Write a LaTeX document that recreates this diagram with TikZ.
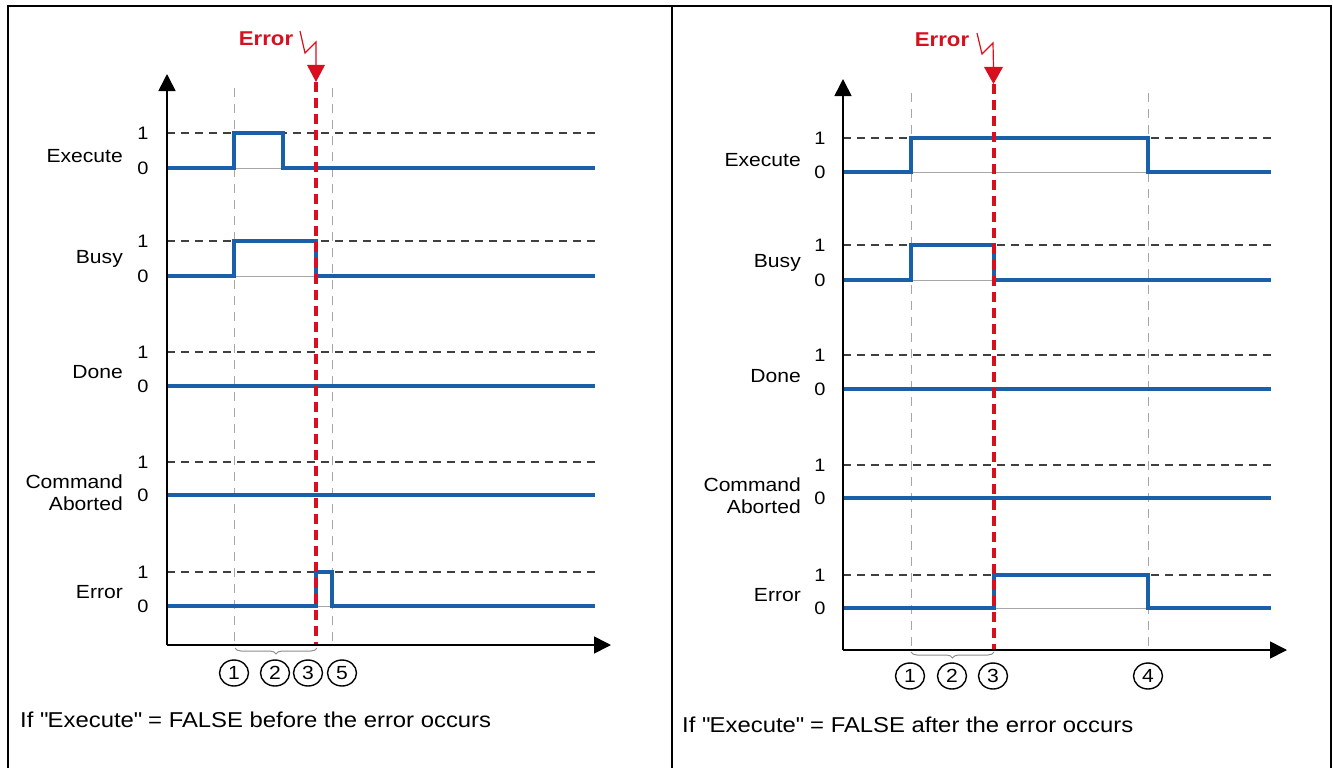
\documentclass[tikz,border=0pt]{standalone}
\usepackage{fontspec}
\setmainfont[FakeStretch=1.11]{Liberation Sans}
\usetikzlibrary{arrows.meta,decorations.pathreplacing,shapes.geometric}
\definecolor{sigblue}{RGB}{25,95,170}
\definecolor{errred}{RGB}{215,15,30}
\tikzset{
  sig/.style={sigblue, line width=3.2pt, line join=miter},
  lvl/.style={black!75, dash pattern=on 8pt off 6pt, line width=1.3pt},
  evt/.style={black!35, dash pattern=on 9pt off 7pt, line width=1pt},
  baseln/.style={black!35, line width=1pt},
  errln/.style={errred, line width=4pt, dash pattern=on 10pt off 6pt},
  axisln/.style={black, line width=1.6pt, -{Triangle[length=17pt,width=17pt]}},
  frame/.style={black, line width=2.4pt},
  numlab/.style={font=\fontsize{18}{18}\selectfont, inner sep=0pt, anchor=center},
  namelab/.style={font=\fontsize{19}{22}\selectfont, inner sep=0pt, anchor=east, align=right},
  circnum/.style={ellipse, draw, line width=1.4pt, minimum width=29pt, minimum height=26pt, inner sep=0pt, font=\fontsize{19}{19}\selectfont},
  captxt/.style={font=\fontsize{21.5}{22}\selectfont, inner sep=0pt, anchor=west},
  errlab/.style={font=\bfseries\fontsize{20}{20}\selectfont, text=errred, inner sep=0pt},
  bolt/.style={errred, line width=1.2pt},
  brc/.style={black!45, line width=1pt, decorate, decoration={brace, mirror, amplitude=6pt}}
}
\begin{document}
\begin{tikzpicture}[x=1pt,y=-1pt]
\useasboundingbox (0,0) rectangle (1333,768);
% frame
\draw[frame] (8,770) -- (8,6) -- (1331,6) -- (1331,770);
\draw[frame] (672,6) -- (672,770);

% ================= LEFT PANEL =================
\coordinate (LO) at (167,645);
\coordinate (LY) at (167,74);
\coordinate (LX) at (611,645);
\foreach \yy in {133,241,352,462,572} \draw[lvl] (167,\yy) -- (597,\yy);
\coordinate (Le1t) at (234,88); \coordinate (Le1b) at (234,645);
\coordinate (Le5t) at (332,88); \coordinate (Le5b) at (332,645);
\draw[evt] (Le1t) -- (Le1b);
\draw[evt] (Le5t) -- (Le5b);
\draw[baseln] (234,168) -- (283,168);
\draw[baseln] (234,276) -- (316,276);
\draw[baseln] (316,606) -- (332,606);
\draw[sig] (167,168) -- (234,168) -- (234,133) -- (283,133) -- (283,168) -- (595,168);
\draw[sig] (167,276) -- (234,276) -- (234,241) -- (316,241) -- (316,276) -- (595,276);
\draw[sig] (167,386) -- (595,386);
\draw[sig] (167,495) -- (595,495);
\draw[sig] (167,606) -- (316,606) -- (316,572) -- (332,572) -- (332,606) -- (595,606);
\coordinate (LRt) at (316,82); \coordinate (LRb) at (316,645);
\draw[errln] (LRt) -- (LRb);
\fill[errred] (307,65) -- (325,65) -- (316,82) -- cycle;
\coordinate (LB0) at (300,31);
\coordinate (LB1) at (305,53);
\coordinate (LB2) at (316,42);
\coordinate (LB3) at (316,66);
\draw[bolt] (LB0) -- (LB1) -- (LB2) -- (LB3);
\node[errlab] (LErr) at (266,39) {Error};
\draw[axisln] (LO) -- (LY);
\draw[axisln] (LO) -- (LX);
\node[numlab] (L1a) at (143,133) {1}; \node[numlab] (L0a) at (143,168) {0};
\node[numlab] (L1b) at (143,241) {1}; \node[numlab] (L0b) at (143,276) {0};
\node[numlab] (L1c) at (143,352) {1}; \node[numlab] (L0c) at (143,386) {0};
\node[numlab] (L1d) at (143,462) {1}; \node[numlab] (L0d) at (143,495) {0};
\node[numlab] (L1e) at (143,572) {1}; \node[numlab] (L0e) at (143,606) {0};
\node[namelab] (LNa) at (123,156) {Execute};
\node[namelab] (LNb) at (123,259) {Busy};
\node[namelab] (LNc) at (123,372) {Done};
\node[namelab] (LNd) at (123,493) {Command\\Aborted};
\node[namelab] (LNe) at (123,592) {Error};
\coordinate (LBr0) at (235,648); \coordinate (LBr1) at (317,648);
\draw[brc] (LBr0) -- (LBr1);
\node[circnum] (Lc1) at (234,673) {1};
\node[circnum] (Lc2) at (275,673) {2};
\node[circnum] (Lc3) at (308,673) {3};
\node[circnum] (Lc5) at (342,673) {5};
\node[captxt] (Lcap) at (20,720) {If \textquotedbl Execute\textquotedbl\ = FALSE before the error occurs};

% ================= RIGHT PANEL =================
\coordinate (RO) at (843,650);
\coordinate (RY) at (843,79);
\coordinate (RX) at (1287,650);
\foreach \yy in {138,245,355,465,575} \draw[lvl] (843,\yy) -- (1273,\yy);
\coordinate (Re1t) at (911,93); \coordinate (Re1b) at (911,650);
\coordinate (Re4t) at (1148,93); \coordinate (Re4b) at (1148,650);
\draw[evt] (Re1t) -- (Re1b);
\draw[evt] (Re4t) -- (Re4b);
\draw[baseln] (911,172) -- (1148,172);
\draw[baseln] (911,280) -- (994,280);
\draw[baseln] (994,608) -- (1148,608);
\draw[sig] (843,172) -- (911,172) -- (911,138) -- (1148,138) -- (1148,172) -- (1271,172);
\draw[sig] (843,280) -- (911,280) -- (911,245) -- (994,245) -- (994,280) -- (1271,280);
\draw[sig] (843,389) -- (1271,389);
\draw[sig] (843,498) -- (1271,498);
\draw[sig] (843,608) -- (994,608) -- (994,575) -- (1148,575) -- (1148,608) -- (1271,608);
\coordinate (RRt) at (994,84); \coordinate (RRb) at (994,650);
\draw[errln] (RRt) -- (RRb);
\fill[errred] (984,67) -- (1003,67) -- (993.5,84) -- cycle;
\coordinate (RB0) at (977,33);
\coordinate (RB1) at (982,54);
\coordinate (RB2) at (993,43);
\coordinate (RB3) at (993.5,68);
\draw[bolt] (RB0) -- (RB1) -- (RB2) -- (RB3);
\node[errlab] (RErr) at (942,40) {Error};
\draw[axisln] (RO) -- (RY);
\draw[axisln] (RO) -- (RX);
\node[numlab] (R1a) at (820,138) {1}; \node[numlab] (R0a) at (820,172) {0};
\node[numlab] (R1b) at (820,245) {1}; \node[numlab] (R0b) at (820,280) {0};
\node[numlab] (R1c) at (820,355) {1}; \node[numlab] (R0c) at (820,389) {0};
\node[numlab] (R1d) at (820,465) {1}; \node[numlab] (R0d) at (820,498) {0};
\node[numlab] (R1e) at (820,575) {1}; \node[numlab] (R0e) at (820,608) {0};
\node[namelab] (RNa) at (801,160) {Execute};
\node[namelab] (RNb) at (801,263) {Busy};
\node[namelab] (RNc) at (801,376) {Done};
\node[namelab] (RNd) at (801,496) {Command\\Aborted};
\node[namelab] (RNe) at (801,595) {Error};
\coordinate (RBr0) at (911,652); \coordinate (RBr1) at (994,652);
\draw[brc] (RBr0) -- (RBr1);
\node[circnum] (Rc1) at (910,676) {1};
\node[circnum] (Rc2) at (952,676) {2};
\node[circnum] (Rc3) at (993,676) {3};
\node[circnum] (Rc4) at (1148,676) {4};
\node[captxt] (Rcap) at (682,725) {If \textquotedbl Execute\textquotedbl\ = FALSE after the error occurs};
\end{tikzpicture}
\end{document}
